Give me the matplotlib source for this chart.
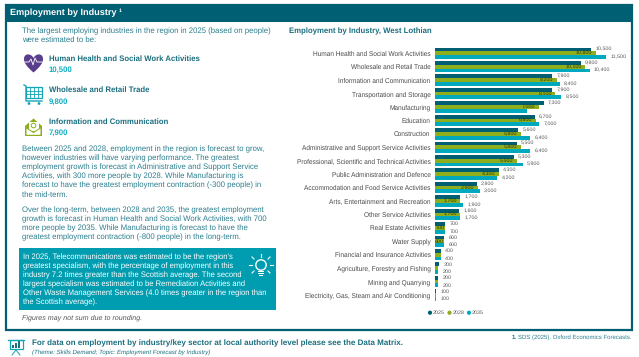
import matplotlib
matplotlib.use("Agg")
import matplotlib.pyplot as plt
import numpy as np
from matplotlib.patches import Rectangle, Circle, PathPatch, Polygon
from matplotlib.path import Path

plt.rcParams['font.family'] = ['Liberation Sans', 'DejaVu Sans']
plt.rcParams['text.hinting'] = 'no_hinting'
plt.rcParams['text.hinting_factor'] = 8

categories = ["Human Health and Social Work Activities", "Wholesale and Retail Trade",
              "Information and Communication", "Transportation and Storage", "Manufacturing",
              "Education", "Construction", "Administrative and Support Service Activities",
              "Professional, Scientific and Technical Activities", "Public Administration and Defence",
              "Accommodation and Food Service Activities", "Arts, Entertainment and Recreation",
              "Other Service Activities", "Real Estate Activities", "Water Supply",
              "Financial and Insurance Activities", "Agriculture, Forestry and Fishing",
              "Mining and Quarrying", "Electricity, Gas, Steam and Air Conditioning"]
y2025 = [10500, 9800, 7900, 7900, 7300, 6700, 5600, 5500, 5300, 4300, 2800, 1700, 1600, 700, 600, 400, 300, 200, 100]
y2028 = [10800, 10100, 8200, 8100, 7000, 6800, 5800, 5800, 5500, 4300, 2900, 1700, 1700, 700, 600, 400, 200, 200, 100]
y2035 = [11500, 10400, 8400, 8500, 6200, 7000, 6400, 6400, 5900, 4200, 3000, 1900, 1700, 700, 600, 400, 200, 200, 100]
series_names = ["2025", "2028", "2035"]
hidden_2028_below = 600   # labels of small 2028 bars are not shown
hidden_2035_labels = ["Manufacturing"]

DARK, GREEN, CYAN = "#005F73", "#8FAE1B", "#00A9BE"
TEAL = "#2B7F8F"
BOX = "#009DB1"
GREY = "#595959"

W, H = 639, 357
fig = plt.figure(figsize=(W/100, H/100), dpi=100, facecolor="white")
bg = fig.add_axes([0, 0, 1, 1])
bg.set_xlim(0, W); bg.set_ylim(H, 0); bg.axis("off")

# frame and header
bg.add_patch(Rectangle((5.5, 5), 626.5, 325, fill=False, ec=DARK, lw=1.6))
bg.add_patch(Rectangle((5, 5), 627, 17, fc=DARK, ec=DARK, lw=0))
bg.text(10, 13.2, "Employment by Industry", color="white", fontsize=6.6, fontweight="bold", va="center")
bg.text(118.5, 10.6, "1", color="white", fontsize=3.8, fontweight="bold", va="center")

def para(lines, x, y0, step, **kw):
    for i, line in enumerate(lines):
        bg.text(x, y0 + i*step, line, va="center", **kw)

body = dict(color=TEAL, fontsize=5.62)
para(["The largest employing industries in the region in 2025 (based on people)",
      "were estimated to be:"], 22.5, 30.8, 9.2, **body)

head = dict(color="#1B6F80", fontsize=5.6, fontweight="bold")
val = dict(color="#12B0C4", fontsize=5.6, fontweight="bold")
for name, v, y in [("Human Health and Social Work Activities", "10,500", 58.7),
                   ("Wholesale and Retail Trade", "9,800", 90.3),
                   ("Information and Communication", "7,900", 121.7)]:
    bg.text(49, y, name, va="center", **head)
    bg.text(49, y + 11, v, va="center", **val)

# heart icon
heart = Path([(33.5, 72.5), (27, 67), (24, 63), (24, 59), (24, 53), (31, 53), (33.5, 58),
              (36, 53), (43, 53), (43, 59), (43, 63), (40, 67), (33.5, 72.5)],
             [Path.MOVETO, Path.CURVE4, Path.CURVE4, Path.CURVE4, Path.CURVE4, Path.CURVE4, Path.CURVE4,
              Path.CURVE4, Path.CURVE4, Path.CURVE4, Path.CURVE4, Path.CURVE4, Path.CURVE4])
bg.add_patch(PathPatch(heart, fc="#5A3E8C", ec="none"))
bg.plot([25, 29, 31, 33, 35, 37, 42], [62, 62, 59, 65, 58, 62, 62], color="white", lw=0.6)

# cart icon
bg.add_patch(Rectangle((26, 87), 16, 11, fill=False, ec="#12A5B8", lw=0.9))
for gx in (30, 34, 38):
    bg.plot([gx, gx], [87, 98], color="#12A5B8", lw=0.6)
for gy in (90.6, 94.3):
    bg.plot([26, 42], [gy, gy], color="#12A5B8", lw=0.6)
bg.plot([24, 26, 26, 42], [85, 86, 101, 101], color="#12A5B8", lw=1.0)
for cx in (29, 39):
    bg.add_patch(Circle((cx, 103.5), 1.4, fc="#12A5B8", ec="none"))

# envelope icon
bg.add_patch(Polygon([(25, 126), (33.5, 118.5), (42, 126), (42, 136), (25, 136)], fc="#8FAE1B", ec="none"))
bg.add_patch(Rectangle((28.5, 121.5), 10, 9, fc="white", ec="none"))
bg.add_patch(Circle((33.5, 125.5), 2.3, fill=False, ec="#8FAE1B", lw=0.7))
bg.add_patch(Polygon([(26.5, 128), (33.5, 132.5), (40.5, 128), (40.5, 134.8), (26.5, 134.8)], fc="white", ec="none"))
bg.plot([26.5, 33.5, 40.5], [128, 132.5, 128], color="#8FAE1B", lw=0.7)

para(["Between 2025 and 2028, employment in the region is forecast to grow,",
      "however industries will have varying performance. The greatest",
      "employment growth is forecast in Administrative and Support Service",
      "Activities, with 300 more people by 2028. While Manufacturing is",
      "forecast to have the greatest employment contraction (-300 people) in",
      "the mid-term."], 22, 149.7, 9.0, **body)
para(["Over the long-term, between 2028 and 2035, the greatest employment",
      "growth is forecast in Human Health and Social Work Activities, with 700",
      "more people by 2035. While Manufacturing is forecast to have the",
      "greatest employment contraction (-800 people) in the long-term."], 22, 210, 9.0, **body)

# call-out box
bg.add_patch(Rectangle((18.5, 248), 257.5, 62, fc=BOX, ec="none"))
para(["In 2025, Telecommunications was estimated to be the region\u2019s",
      "greatest specialism, with the percentage of employment in this",
      "industry 7.2 times greater than the Scottish average. The second",
      "largest specialism was estimated to be Remediation Activities and",
      "Other Waste Management Services (4.0 times greater in the region than",
      "the Scottish average)."], 23, 257, 9.13, color="white", fontsize=5.5)
# light bulb
bg.add_patch(Circle((261, 265), 5.2, fill=False, ec="white", lw=1.0))
bg.add_patch(Rectangle((258, 271), 6, 1.0, fc="white", ec="none"))
bg.add_patch(Rectangle((258, 273), 6, 1.0, fc="white", ec="none"))
bg.add_patch(Rectangle((259, 275), 4, 1.0, fc="white", ec="none"))
for x0, y0, x1, y1 in [(261, 254, 261, 257), (252, 257, 254, 259), (270, 257, 268, 259),
                       (249, 265, 252, 265), (270, 265, 273, 265), (252, 273, 254, 271), (270, 273, 268, 271)]:
    bg.plot([x0, x1], [y0, y1], color="white", lw=0.8)

bg.text(22, 318, "Figures may not sum due to rounding.", color="#555555", fontsize=5.13, style="italic", va="center")

# footer
bg.add_patch(Rectangle((9.5, 340), 13, 9, fc="white", ec="#12A5B8", lw=0.9))
bg.plot([8, 24], [339.5, 339.5], color="#12A5B8", lw=0.9)
for bx, bh in [(12, 3), (15, 5), (18, 7)]:
    bg.add_patch(Rectangle((bx, 348 - bh), 2, bh, fc="#1B6F80", ec="none"))
bg.plot([12, 16, 20], [355, 350, 355], color="#12A5B8", lw=0.7)
bg.text(31.5, 343.7, "For data on employment by industry/key sector at local authority level please see the Data Matrix.",
        color="#1B6F80", fontsize=5.73, fontweight="bold", va="center")
bg.text(31.5, 352.7, "(Theme: Skills Demand; Topic: Employment Forecast by Industry)",
        color="#1B6F80", fontsize=4.4, style="italic", va="center")
bg.text(511.5, 337.5, "1.", color="#1B6F80", fontsize=4.3, fontweight="bold", va="center")
bg.text(518, 337.5, "SDS (2025). Oxford Economics Forecasts.", color=TEAL, fontsize=4.3, va="center")

bg.text(289, 31, "Employment by Industry, West Lothian", color="#1B6F80", fontsize=5.6, fontweight="bold", va="center")

# chart: pixel box x 435..620, rows centred 53.3 .. 295
x0, x1 = 435, 620
step = (295 - 53.3) / 18
top, bottom = 53.3 - step/2, 295 + step/2
ax = fig.add_axes([x0/W, 1 - bottom/H, (x1-x0)/W, (bottom-top)/H])
ax.patch.set_alpha(0)
ax.set_xlim(0, (x1-x0)/0.01487)
ax.set_ylim(len(categories) - 0.5, -0.5)
pos = np.arange(len(categories))
h = 0.285
ax.barh(pos - h, y2025, height=h, color=DARK, label=series_names[0])
ax.barh(pos, y2028, height=h, color=GREEN, label=series_names[1])
ax.barh(pos + h, y2035, height=h, color=CYAN, label=series_names[2])
lab = dict(fontsize=3.9, va="center")
for i, cat in enumerate(categories):
    ax.text(y2025[i] + 290, i - h, f"{y2025[i]:,}", color=GREY, **lab)
    if y2028[i] >= hidden_2028_below:
        ax.text(y2028[i] - 240 if y2028[i] > 1000 else y2028[i] - 20, i, f"{y2028[i]:,}", color="#2F3A10", ha="right", **lab)
    if cat not in hidden_2035_labels:
        ax.text(y2035[i] + 290, i + h, f"{y2035[i]:,}", color=GREY, **lab)
ax.set_yticks(pos, categories)
ax.set_xticks([])
ax.tick_params(axis="y", length=0, pad=3.2, labelsize=4.7, labelcolor="#4A4A4A")
for s in ax.spines.values():
    s.set_visible(False)

# legend
for x, name, c in [(430, series_names[0], DARK), (449.5, series_names[1], GREEN), (469, series_names[2], CYAN)]:
    bg.add_patch(Circle((x, 312.7), 2.1, fc=c, ec="none"))
    bg.text(x + 3, 312.7, name, color=GREY, fontsize=3.9, va="center")

fig.savefig("out.png", dpi=100, facecolor="white")
